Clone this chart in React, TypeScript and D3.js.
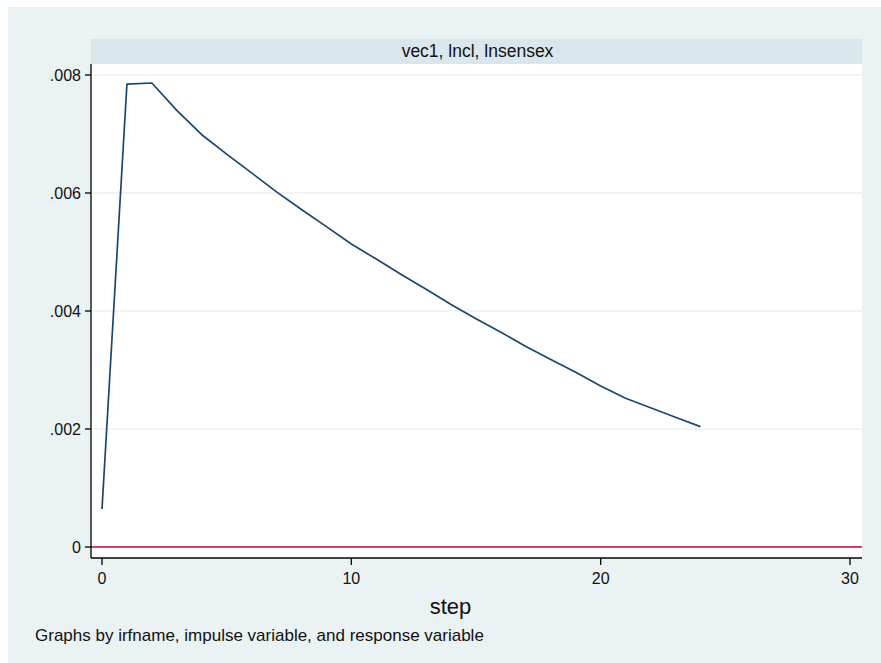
import React from "react";
import * as d3 from "d3";

const steps = [0, 1, 2, 3, 4, 5, 6, 7, 8, 9, 10, 11, 12, 13, 14, 15, 16, 17, 18, 19, 20, 21, 22, 23, 24];
const irf = [
  0.000644, 0.007847, 0.007864, 0.0074, 0.006988, 0.00666, 0.00634, 0.00602, 0.00572, 0.00543,
  0.005136, 0.00488, 0.00462, 0.00437, 0.00411, 0.00387, 0.00364, 0.0034, 0.00318, 0.00296,
  0.00273, 0.00252, 0.00236, 0.0022, 0.00204,
];
const yTicks = [0, 0.002, 0.004, 0.006, 0.008];
const yTickLabels = ["0", ".002", ".004", ".006", ".008"];
const xTicks = [0, 10, 20, 30];
const stripTitle = "vec1, lncl, lnsensex";
const xTitle = "step";
const note = "Graphs by irfname, impulse variable, and response variable";

export default function App() {
  const W = 881, H = 663;
  const plotL = 91, plotR = 862, plotT = 64, plotB = 558;
  const x = d3.scaleLinear().domain([0, 30]).range([102, 850]);
  const y = d3.scaleLinear().domain([0, 0.008]).range([547, 75]);
  const line = d3
    .line<number>()
    .x((_, i) => x(steps[i]))
    .y((d) => y(d));
  const font = "'Liberation Sans', Arial, Helvetica, sans-serif";
  return (
    <svg
      width={W}
      height={H}
      style={{ position: "absolute", left: 0, top: 0 }}
      fontFamily={font}
    >
      <rect x={0} y={0} width={W} height={H} fill="#ffffff" />
      <rect x={8} y={7} width={W - 8} height={H - 7} fill="#EAF2F3" />
      <rect x={plotL} y={39} width={plotR - plotL} height={plotT - 39} fill="#D9E6EB" />
      <text x={(plotL + plotR) / 2 + 1} y={57} textAnchor="middle" fontSize={17.5} fill="#111">
        {stripTitle}
      </text>
      <rect x={plotL} y={plotT} width={plotR - plotL} height={plotB - plotT} fill="#ffffff" />
      {yTicks.map((t) => (
        <line key={"g" + t} x1={plotL} x2={plotR} y1={y(t)} y2={y(t)} stroke="#EAF2F3" strokeWidth={1.6} />
      ))}
      <line x1={plotL} x2={plotR} y1={y(0)} y2={y(0)} stroke="#C10534" strokeWidth={1.6} />
      <path d={line(irf) ?? ""} fill="none" stroke="#1A476F" strokeWidth={1.7} strokeLinejoin="round" />
      <line x1={plotL} x2={plotL} y1={plotT} y2={plotB} stroke="#000" strokeWidth={1.3} />
      <line x1={plotL} x2={plotR} y1={plotB} y2={plotB} stroke="#000" strokeWidth={1.3} />
      {yTicks.map((t, i) => (
        <g key={"y" + t}>
          <line x1={85} x2={plotL} y1={y(t)} y2={y(t)} stroke="#000" strokeWidth={1.3} />
          <text x={81} y={y(t) + 6} textAnchor="end" fontSize={16} fill="#111">
            {yTickLabels[i]}
          </text>
        </g>
      ))}
      {xTicks.map((t) => (
        <g key={"x" + t}>
          <line x1={x(t)} x2={x(t)} y1={plotB} y2={565} stroke="#000" strokeWidth={1.3} />
          <text x={x(t)} y={584} textAnchor="middle" fontSize={16} fill="#111">
            {t}
          </text>
        </g>
      ))}
      <text x={(plotL + plotR) / 2 - 26} y={614} textAnchor="middle" fontSize={22} fill="#111">
        {xTitle}
      </text>
      <text x={35} y={641} fontSize={17} fill="#111">
        {note}
      </text>
    </svg>
  );
}
